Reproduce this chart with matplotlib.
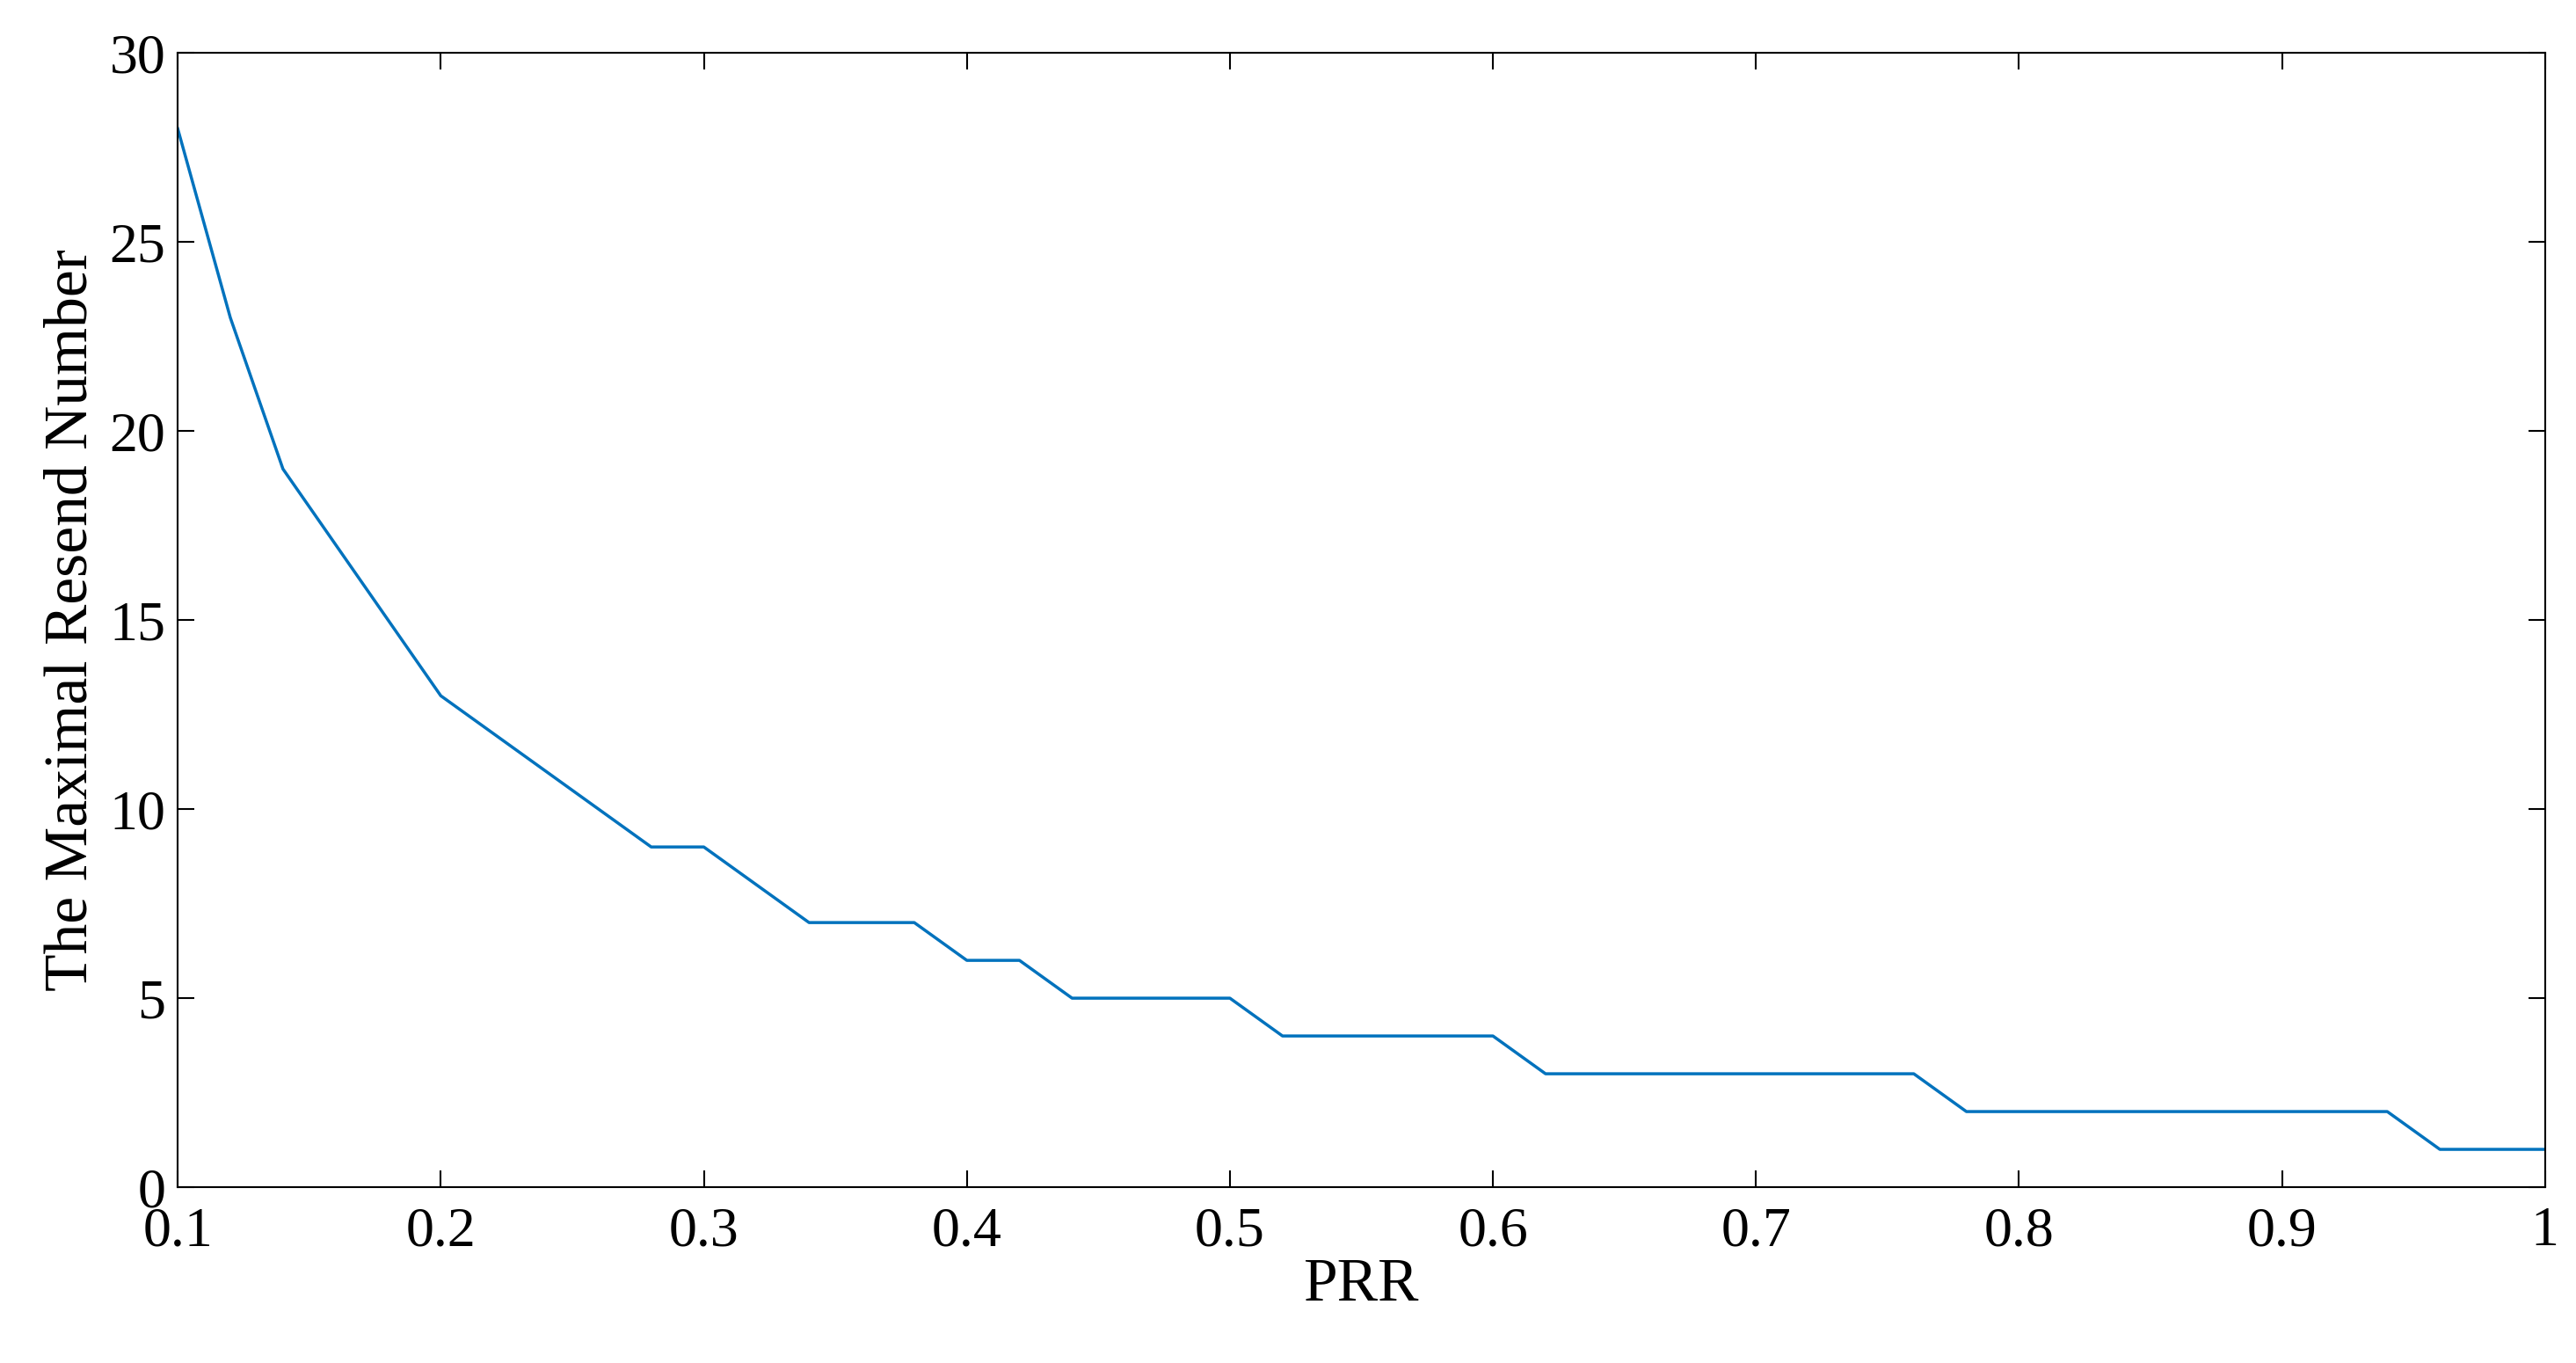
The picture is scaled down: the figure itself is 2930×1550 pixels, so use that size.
import numpy as np
import matplotlib.pyplot as plt

# values
prr = [0.10, 0.12, 0.14, 0.16, 0.18, 0.20, 0.22, 0.24, 0.26, 0.28,
       0.30, 0.32, 0.34, 0.36, 0.38, 0.40, 0.42, 0.44, 0.46, 0.48,
       0.50, 0.52, 0.54, 0.56, 0.58, 0.60, 0.62, 0.64, 0.66, 0.68,
       0.70, 0.72, 0.74, 0.76, 0.78, 0.80, 0.82, 0.84, 0.86, 0.88,
       0.90, 0.92, 0.94, 0.96, 0.98, 1.00]
resend = [28, 23, 19, 17, 15, 13, 12, 11, 10, 9,
          9, 8, 7, 7, 7, 6, 6, 5, 5, 5,
          5, 4, 4, 4, 4, 4, 3, 3, 3, 3,
          3, 3, 3, 3, 2, 2, 2, 2, 2, 2,
          2, 2, 2, 1, 1, 1]

plt.rcParams['font.family'] = ['Liberation Serif', 'DejaVu Serif']

fig = plt.figure(figsize=(29.3, 15.5), dpi=100)
ax = fig.add_axes([0.069, 0.129, 0.919, 0.832])
ax.plot(prr, resend, color='#0072BD', linewidth=2.5)
ax.set_xlim(0.1, 1)
ax.set_ylim(0, 30)
ax.set_xticks([0.1, 0.2, 0.3, 0.4, 0.5, 0.6, 0.7, 0.8, 0.9, 1])
ax.set_xticklabels(['0.1', '0.2', '0.3', '0.4', '0.5', '0.6', '0.7', '0.8', '0.9', '1'])
ax.set_yticks(range(0, 31, 5))
ax.tick_params(direction='in', top=True, right=True, labelsize=46,
               length=14, width=1.5)
ax.tick_params(axis='x', pad=16)
ax.tick_params(axis='y', pad=10)
for s in ax.spines.values():
    s.set_linewidth(1.5)
ax.set_xlabel('PRR', fontsize=50, labelpad=0)
ax.set_ylabel('The Maximal Resend Number', fontsize=50, labelpad=8)

fig.savefig('out.png', dpi=100)
